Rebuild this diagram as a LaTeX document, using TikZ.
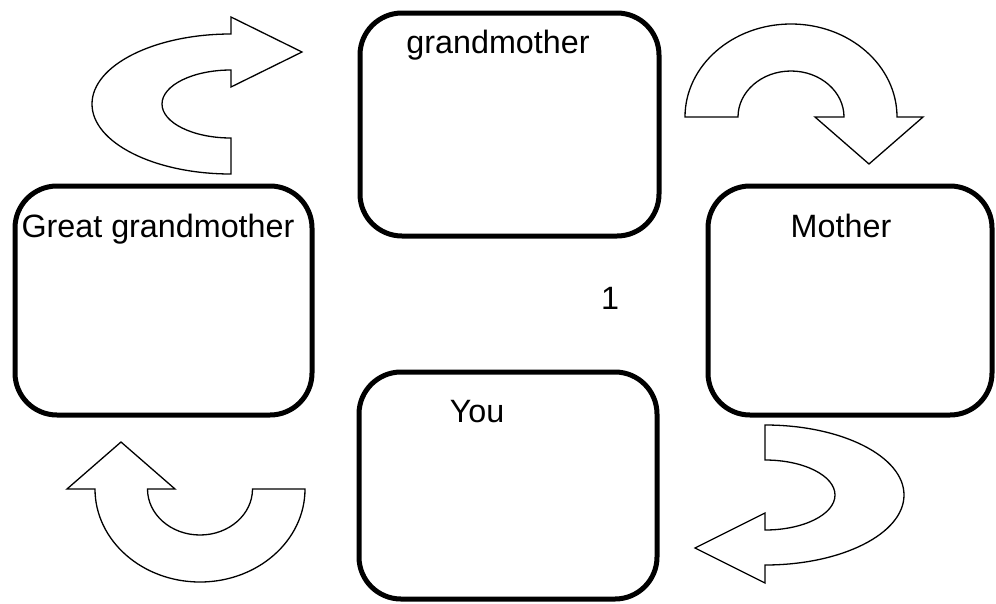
\documentclass[tikz,border=0pt]{standalone}
\usepackage{fontspec}
\setmainfont{Liberation Sans}
\begin{document}
\begin{tikzpicture}[x=1pt, y=-1pt,
  familybox/.style={draw=black, line width=5pt, rounded corners=42pt, inner sep=0pt, fill=white},
  lbl/.style={font=\fontsize{32.3}{39}\selectfont, inner sep=0pt, anchor=base},
  turnarrow/.style={draw=black, line width=1.3pt, fill=white, line join=miter}]
\useasboundingbox (0,0) rectangle (996,603);

% family boxes
\node[familybox, minimum width=299pt, minimum height=223pt] (gm)  at (509.5,124.5) {};
\node[familybox, minimum width=297pt, minimum height=229pt] (gg)  at (163.5,300.5) {};
\node[familybox, minimum width=284pt, minimum height=229pt] (mo)  at (850,300.5) {};
\node[familybox, minimum width=298pt, minimum height=227pt] (you) at (508,485.5) {};

% box titles
\node[lbl] (tgm)  at (498,53)  {grandmother};
\node[lbl] (tgg)  at (158,237) {Great grandmother};
\node[lbl] (tmo)  at (841,237) {Mother};
\node[lbl] (tyou) at (477,422) {You};
\node[lbl] (tone) at (610,309) {1};

% curved arrow: great grandmother -> grandmother
\draw[turnarrow] (231,174) arc[start angle=90, end angle=270, x radius=139, y radius=70]
  -- (231,17) -- (302,52) -- (231,87) -- (231,70)
  arc[start angle=270, end angle=90, x radius=69, y radius=34] -- cycle;

% curved arrow: grandmother -> mother
\draw[turnarrow] (685,117) arc[start angle=180, end angle=360, x radius=106, y radius=93]
  -- (923,117) -- (869,164) -- (815,117) -- (844,117)
  arc[start angle=0, end angle=-180, x radius=53, y radius=46] -- cycle;

% curved arrow: mother -> you
\draw[turnarrow] (765,425) arc[start angle=-90, end angle=90, x radius=139, y radius=70]
  -- (765,583) -- (695,548) -- (765,513) -- (765,530)
  arc[start angle=90, end angle=-90, x radius=70, y radius=35] -- cycle;

% curved arrow: you -> great grandmother
\draw[turnarrow] (305,489) arc[start angle=0, end angle=180, x radius=105, y radius=93]
  -- (67,489) -- (121,442) -- (175,489) -- (147.5,489)
  arc[start angle=180, end angle=0, x radius=52.5, y radius=46] -- cycle;
\end{tikzpicture}
\end{document}
